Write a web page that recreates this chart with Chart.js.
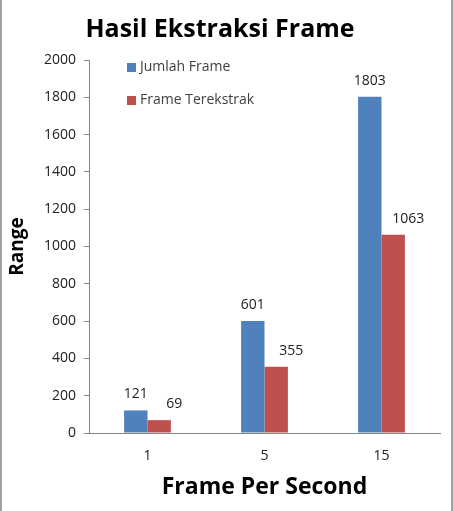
<!DOCTYPE html>
<html>
<head>
<meta charset="utf-8">
<script src="https://cdn.jsdelivr.net/npm/chart.js@4/dist/chart.umd.min.js"></script>
<style>
  html, body { margin: 0; padding: 0; background: #fff; }
  .frame { position: relative; width: 453px; height: 511px; box-sizing: border-box;
           border-left: 2px solid #a0a0a0; border-right: 2px solid #a0a0a0; }
  canvas { position: absolute; left: -2px; top: 0; }
</style>
</head>
<body>
<div class="frame">
  <canvas id="myChart" width="453" height="511"></canvas>
</div>
<script>
const categories = ["1", "5", "15"];
const jumlahFrame = [121, 601, 1803];
const frameTerekstrak = [69, 355, 1063];
const yTicks = [0, 200, 400, 600, 800, 1000, 1200, 1400, 1600, 1800, 2000];

const FONT = "'Open Sans', 'Liberation Sans', sans-serif";

// value labels above bars (red ones sit a bit to the right, like the original)
const labelShift = [0, 15];
const barLabels = {
    id: 'barLabels',
    afterDatasetsDraw(chart) {
        const ctx = chart.ctx;
        ctx.save();
        ctx.font = "14px " + FONT;
        ctx.fillStyle = '#222';
        ctx.textAlign = 'center';
        ctx.textBaseline = 'middle';
        chart.data.datasets.forEach((ds, i) => {
            chart.getDatasetMeta(i).data.forEach((bar, j) => {
                ctx.fillText(ds.data[j], bar.x + labelShift[i], bar.y - 16);
            });
        });
        ctx.restore();
    }
};

// legend inside the plot, top-left
const innerLegend = {
    id: 'innerLegend',
    afterDraw(chart) {
        const ctx = chart.ctx;
        const area = chart.chartArea;
        ctx.save();
        ctx.font = "14px " + FONT;
        ctx.textBaseline = 'middle';
        chart.data.datasets.forEach((ds, i) => {
            const y = area.top + 7 + i * 33;
            ctx.fillStyle = ds.backgroundColor;
            ctx.fillRect(area.left + 38, y - 4, 9, 9);
            ctx.fillStyle = '#404040';
            ctx.fillText(ds.label, area.left + 51, y);
        });
        ctx.restore();
    }
};

new Chart(document.getElementById('myChart').getContext('2d'), {
    type: 'bar',
    data: {
        labels: categories,
        datasets: [
            { label: 'Jumlah Frame', data: jumlahFrame, backgroundColor: '#4F81BD' },
            { label: 'Frame Terekstrak', data: frameTerekstrak, backgroundColor: '#C0504D' }
        ]
    },
    options: {
        responsive: false,
        animation: false,
        layout: { padding: { left: 0, right: 13, top: 0, bottom: 0 } },
        datasets: { bar: { categoryPercentage: 0.4, barPercentage: 1.0 } },
        plugins: {
            legend: { display: false },
            tooltip: { enabled: false },
            title: {
                display: true,
                text: 'Hasil Ekstraksi Frame',
                color: '#000',
                font: { family: FONT, size: 25, weight: 'bold', lineHeight: 1.2 },
                padding: { top: 15, bottom: 15 }
            }
        },
        scales: {
            x: {
                grid: { display: false, drawTicks: false },
                border: { display: true, color: '#868686' },
                ticks: { color: '#222', padding: 15, font: { family: FONT, size: 14 } },
                title: {
                    display: true,
                    text: 'Frame Per Second',
                    color: '#000',
                    font: { family: FONT, size: 23, weight: 'bold', lineHeight: 1.2 },
                    padding: { top: 0, bottom: 10 }
                },
                afterFit(scale) { scale.height = 78; }
            },
            y: {
                min: 0,
                max: 2000,
                afterBuildTicks(scale) { scale.ticks = yTicks.map(v => ({ value: v })); },
                grid: { drawOnChartArea: false, drawTicks: true, tickLength: 5, color: '#868686' },
                border: { display: true, color: '#868686' },
                ticks: {
                    color: '#222', padding: 8, font: { family: FONT, size: 14 },
                    callback: v => String(v)
                },
                title: {
                    display: true,
                    text: 'Range',
                    color: '#000',
                    font: { family: FONT, size: 19, weight: 'bold', lineHeight: 1.2 },
                    padding: { top: 6, bottom: 0 }
                },
                afterFit(scale) { scale.width = 89; }
            }
        }
    },
    plugins: [barLabels, innerLegend]
});
</script>
</body>
</html>
